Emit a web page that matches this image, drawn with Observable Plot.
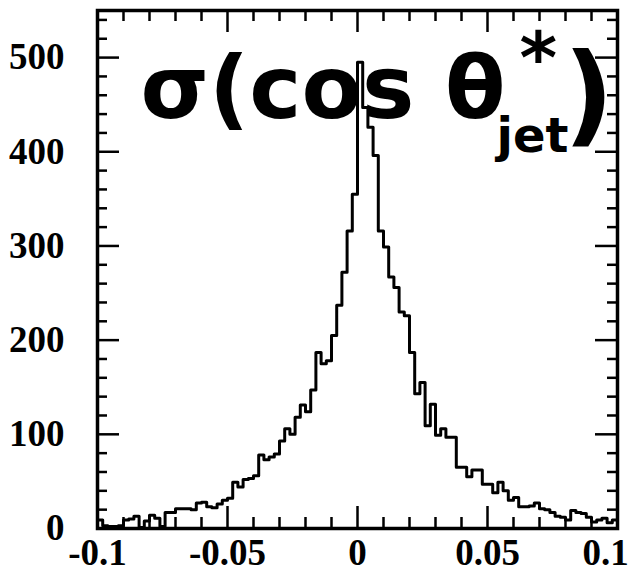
<!DOCTYPE html>
<html><head><meta charset="utf-8">
<script src="https://cdn.jsdelivr.net/npm/d3@7"></script>
<script src="https://cdn.jsdelivr.net/npm/@observablehq/plot@0.6"></script>
<style>
html,body{margin:0;padding:0;background:#fff;}
</style></head><body><div id="chart"></div>
<script>
// ---- data ----
const binLow = -0.1;
const binWidth = 0.002;
const counts = [
  9, 3, 2, 2, 3, 9, 10, 13, 1, 8,
  14, 11, 2, 17, 17, 21, 21, 21, 20, 27,
  28, 23, 22, 26, 30, 32, 49, 44, 52, 53,
  56, 78, 73, 76, 79, 93, 106, 100, 118, 131,
  124, 147, 187, 175, 178, 205, 237, 272, 316, 355,
  495, 447, 426, 396, 316, 299, 267, 256, 230, 226,
  187, 143, 155, 109, 132, 99, 106, 97, 97, 65,
  65, 55, 62, 62, 47, 47, 38, 49, 40, 30,
  33, 23, 23, 24, 27, 21, 20, 17, 13, 12,
  9, 19, 17, 16, 12, 7, 9, 11, 6, 9
];
const xLabelTicks = [-0.1, -0.05, 0, 0.05];
const xLastTick = [0.1];
const xMajorTicks = [-0.1, -0.05, 0, 0.05, 0.1];
const xMinorTicks = [-0.09, -0.08, -0.07, -0.06, -0.04, -0.03, -0.02, -0.01, 0.01, 0.02, 0.03, 0.04, 0.06, 0.07, 0.08, 0.09];
const yMajorTicks = [0, 100, 200, 300, 400, 500];
const yMinorTicks = [20, 40, 60, 80, 120, 140, 160, 180, 220, 240, 260, 280, 320, 340, 360, 380, 420, 440, 460, 480, 520, 540];
const titleMain = ["σ(cos θ"];
const titleSup = ["*"];
const titleSub = ["jet"];
const titleClose = [")"];

const xDomain = [-0.1, 0.1];
const yDomain = [0, 550];

// step line points (left edges + closing edge)
const steps = counts.map((c, i) => ({x: binLow + i * binWidth, y: c}));
steps.push({x: binLow + counts.length * binWidth, y: counts[counts.length - 1]});

// tick lengths in pixels converted to data units of each scale
const plotW = 641 - 97 - 24, plotH = 573 - 10 - 45;
const yPerPx = (yDomain[1] - yDomain[0]) / plotH;
const xPerPx = (xDomain[1] - xDomain[0]) / plotW;
const tickStyle = {stroke: "black", strokeWidth: 2.5};
const xTicks = (ticks, px) => [
  Plot.ruleX(ticks, {x: d => d, y1: yDomain[0], y2: yDomain[0] + px * yPerPx, ...tickStyle}),
  Plot.ruleX(ticks, {x: d => d, y1: yDomain[1], y2: yDomain[1] - px * yPerPx, ...tickStyle})
];
const yTicks = (ticks, px) => [
  Plot.ruleY(ticks, {y: d => d, x1: xDomain[0], x2: xDomain[0] + px * xPerPx, ...tickStyle}),
  Plot.ruleY(ticks, {y: d => d, x1: xDomain[1], x2: xDomain[1] - px * xPerPx, ...tickStyle})
];

const fmt = d => d === 0 ? "0" : String(d);
const hand = {fontFamily: "DejaVu Sans", fontWeight: "bold", fill: "black", frameAnchor: "top-left"};
const labelFont = 37;

const chart = Plot.plot({
  width: 641, height: 573,
  marginLeft: 97, marginRight: 24, marginTop: 10, marginBottom: 45,
  x: {domain: xDomain, label: null},
  y: {domain: yDomain, label: null},
  style: {fontFamily: "Liberation Serif", fontWeight: "bold", fontSize: "30px", background: "white", color: "black"},
  marks: [
    Plot.lineY(steps, {x: "x", y: "y", curve: "step-after", stroke: "black", strokeWidth: 3}),
    // labels
    Plot.axisX({anchor: "bottom", ticks: xLabelTicks, tickSize: 0, tickPadding: 10, tickFormat: fmt, fontSize: labelFont, label: null}),
    Plot.axisX({anchor: "bottom", ticks: xLastTick, tickSize: 0, tickPadding: 10, tickFormat: fmt, fontSize: labelFont, label: null, dx: -12}),
    Plot.axisY({anchor: "left", ticks: yMajorTicks, tickSize: 0, tickPadding: 33, tickFormat: fmt, fontSize: labelFont, label: null}),
    // inward ticks
    ...xTicks(xMajorTicks, 22),
    ...xTicks(xMinorTicks, 11),
    ...yTicks(yMajorTicks, 22),
    ...yTicks(yMinorTicks, 10),
    Plot.frame({stroke: "black", strokeWidth: 3.5}),
    // handwritten title
    Plot.text(titleMain, {...hand, text: d => d, dx: 43, dy: 107, lineAnchor: "bottom", textAnchor: "start", fontSize: 88}),
    Plot.text(titleSup, {...hand, text: d => d, dx: 422, dy: 72, lineAnchor: "bottom", textAnchor: "start", fontSize: 72}),
    Plot.text(titleSub, {...hand, text: d => d, dx: 399, dy: 141, lineAnchor: "bottom", textAnchor: "start", fontSize: 48}),
    Plot.text(titleClose, {...hand, text: d => d, dx: 466, dy: 121, lineAnchor: "bottom", textAnchor: "start", fontSize: 110})
  ]
});
document.getElementById("chart").appendChild(chart);
</script></body></html>
